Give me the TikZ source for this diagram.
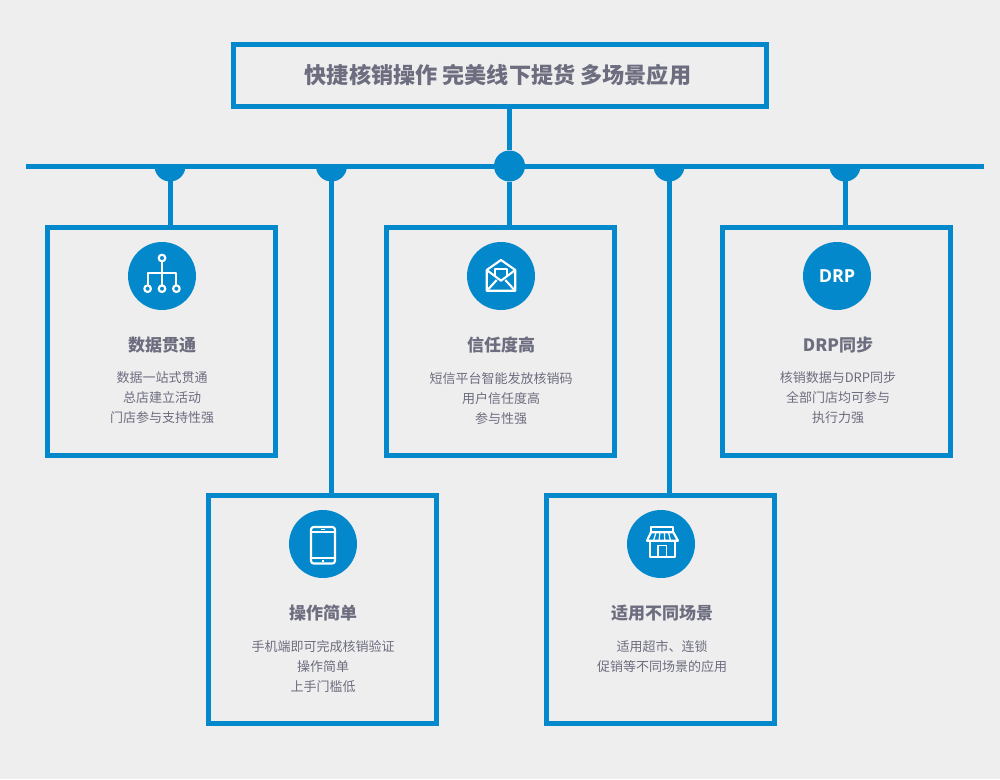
\documentclass[tikz,border=0pt]{standalone}
\usepackage{fontspec}
\setmainfont{Noto Sans CJK SC}
\newfontfamily\badgefont{Open Sans}
\usetikzlibrary{positioning}
\definecolor{linkblue}{HTML}{0488CC}
\definecolor{pagegray}{HTML}{EEEEEE}
\definecolor{textgray}{HTML}{6D6D80}

\begin{document}
\begin{tikzpicture}[x=0.75pt,y=-0.75pt,
  card/.style={draw=linkblue,line width=3.75pt,minimum width=171pt,minimum height=171pt},
  badge/.style={circle,fill=linkblue,minimum size=51pt,inner sep=0pt},
  heading/.style={text=textgray,font=\fontsize{12.75}{15}\selectfont\bfseries,inner sep=0pt},
  body/.style={text=textgray,align=center,font=\fontsize{9.75}{15}\selectfont,inner sep=0pt},
  link/.style={draw=linkblue,line width=3.75pt},
  glyph/.style={draw=white,line width=1.6pt,line join=round}]
\fill[pagegray] (0,0) rectangle (1000,779);

\node[draw=linkblue,line width=3.75pt,minimum width=399.75pt,minimum height=46.5pt] (title) at (500,75.5) {};
\node[text=textgray,font=\fontsize{16.6}{20}\selectfont\bfseries,inner sep=0pt] (titletext) at (498,75) {快捷核销操作 完美线下提货 多场景应用};

\node[card] (data) at (161.5,341.5) {};
\node[card] (trust) at (500.5,341.5) {};
\node[card] (drp) at (836.5,341.5) {};
\node[card] (easy) at (322.5,609.5) {};
\node[card] (scene) at (660.5,609.5) {};

\coordinate (busl) at (26,166);
\coordinate (busr) at (984,166);
\coordinate (tap1) at (170,166);
\coordinate (tap2) at (331.5,166);
\coordinate (tap3) at (669,166);
\coordinate (tap4) at (845,166);
\node[circle,fill=linkblue,minimum size=23.25pt,inner sep=0pt] (hub) at (509.5,166) {};

% bus and drops
\draw[link] (busl) -- (busr);
\foreach \t in {tap1,tap2,tap3,tap4}
  \fill[linkblue] (\t) ++(15.5,0) arc (0:180:15.5) -- cycle;
\draw[link] (hub |- title.south) -- (hub);
\draw[link] (hub) -- (hub |- trust.north);
\draw[link] (tap1) -- (tap1 |- data.north);
\draw[link] (tap2) -- (tap2 |- easy.north);
\draw[link] (tap3) -- (tap3 |- scene.north);
\draw[link] (tap4) -- (tap4 |- drp.north);

\node[badge] (icon1) at (162,276) {};
\node[badge] (icon2) at (323,544) {};
\node[badge] (icon3) at (501,276) {};
\node[badge] (icon4) at (661,544) {};
\node[badge,text=white,font=\badgefont\fontsize{13.5}{15}\selectfont\bfseries] (icon5) at (837,276) {DRP};

% tree icon
\begin{scope}[shift={(icon1)},glyph]
\draw (0,-14.7) -- (0,9.4) (-14.4,9.4) -- (-14.4,-3.3) -- (14.4,-3.3) -- (14.4,9.4);
\foreach \p in {(0,-18),(-14.4,12.7),(0,12.7),(14.4,12.7)}
  \draw \p circle (3.3);
\end{scope}

% phone icon
\begin{scope}[shift={(icon2)},glyph]
\draw[rounded corners=2pt] (-12,-17) rectangle (12,19.5);
\draw (-12,-11.7) -- (12,-11.7) (-12,14.3) -- (12,14.3);
\draw[line width=0.9pt] (-2,-14.3) -- (2,-14.3) (-1,16.9) -- (1,16.9);
\end{scope}

% envelope icon
\begin{scope}[shift={(icon3)},glyph]
\draw (-14.3,-6) -- (0,-16) -- (14.3,-6) -- (14.3,14.7) -- (-14.3,14.7) -- cycle;
\draw (-14.3,-6) -- (0,4.7) -- (14.3,-6);
\draw (-6.3,-0.2) -- (-6.3,-6.7) -- (6.3,-6.7) -- (6.3,-0.2);
\draw (-13,13.5) -- (-4.3,4) (13,13.5) -- (4.3,4);
\end{scope}

% store icon
\begin{scope}[shift={(icon4)},glyph]
\draw (-10,-11.7) -- (-10,-17.3) -- (12.3,-17.3) -- (12.3,-11.7);
\draw (-10,-11.7) -- (12.3,-11.7) -- (17,-3.3) -- (-14,-3.3) -- cycle;
\draw[line width=0.9pt] (-5,-11.7) -- (-7.5,-3.3) (-1,-11.7) -- (-2,-3.3) (3.3,-11.7) -- (3.8,-3.3) (7.5,-11.7) -- (9.5,-3.3);
\draw (-10.7,-3.3) -- (-10.7,13.3) -- (14.3,13.3) -- (14.3,-3.3);
\draw[line width=1pt] (-3,13.3) -- (-3,1.7) -- (5.7,1.7) -- (5.7,13.3);
\end{scope}

\node[heading] (head1) at (162,345) {数据贯通};
\node[body,below=13.75pt of head1] (text1) {数据一站式贯通\\总店建立活动\\门店参与支持性强};
\node[heading] (head3) at (501,345) {信任度高};
\node[body,below=13.75pt of head3] (text3) {短信平台智能发放核销码\\用户信任度高\\参与性强};
\node[heading] (head5) at (838,345) {DRP同步};
\node[body,below=13.75pt of head5] (text5) {核销数据与DRP同步\\全部门店均可参与\\执行力强};
\node[heading] (head2) at (323,613) {操作简单};
\node[body,below=13.75pt of head2] (text2) {手机端即可完成核销验证\\操作简单\\上手门槛低};
\node[heading] (head4) at (662,613) {适用不同场景};
\node[body,below=13.75pt of head4] (text4) {适用超市、连锁\\促销等不同场景的应用};
\end{tikzpicture}
\end{document}
